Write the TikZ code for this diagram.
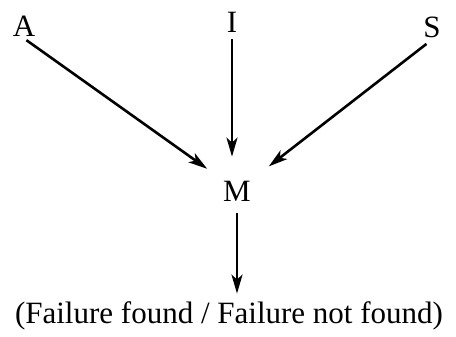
\documentclass[tikz,border=0pt]{standalone}
\usepackage{fontspec}
\setmainfont{Liberation Serif}
\usetikzlibrary{arrows.meta}

\begin{document}
\begin{tikzpicture}[
    x=1pt, y=-1pt,
    label/.style={font=\fontsize{31}{35}\selectfont, inner sep=2pt},
    arrow/.style={-{Stealth[length=19pt,width=11pt,inset=5pt]}, line width=2.6pt}
]
\useasboundingbox (0,0) rectangle (456,337);

% Sources
\node[label] (a) at (24,26) {A};
\node[label] (i) at (232,22) {I};
\node[label] (s) at (432,27) {S};

% Merge and outcome
\node[label] (m) at (237,191) {M};
\node[label] (out) at (229,316) {(Failure found / Failure not found)};

% Arrows into M
\draw[arrow, shorten <=3pt, shorten >=17pt] (a.south) -- (m.north west);
\draw[arrow, shorten <=5pt, shorten >=22pt] (i.south) -- (i.south |- m.north);
\draw[arrow, shorten <=7pt, shorten >=20pt] (s.south) -- (m.north east);

% Arrow out of M
\draw[arrow, shorten <=10pt, shorten >=6pt] (m.south) -- (m.south |- out.north);

\end{tikzpicture}
\end{document}
